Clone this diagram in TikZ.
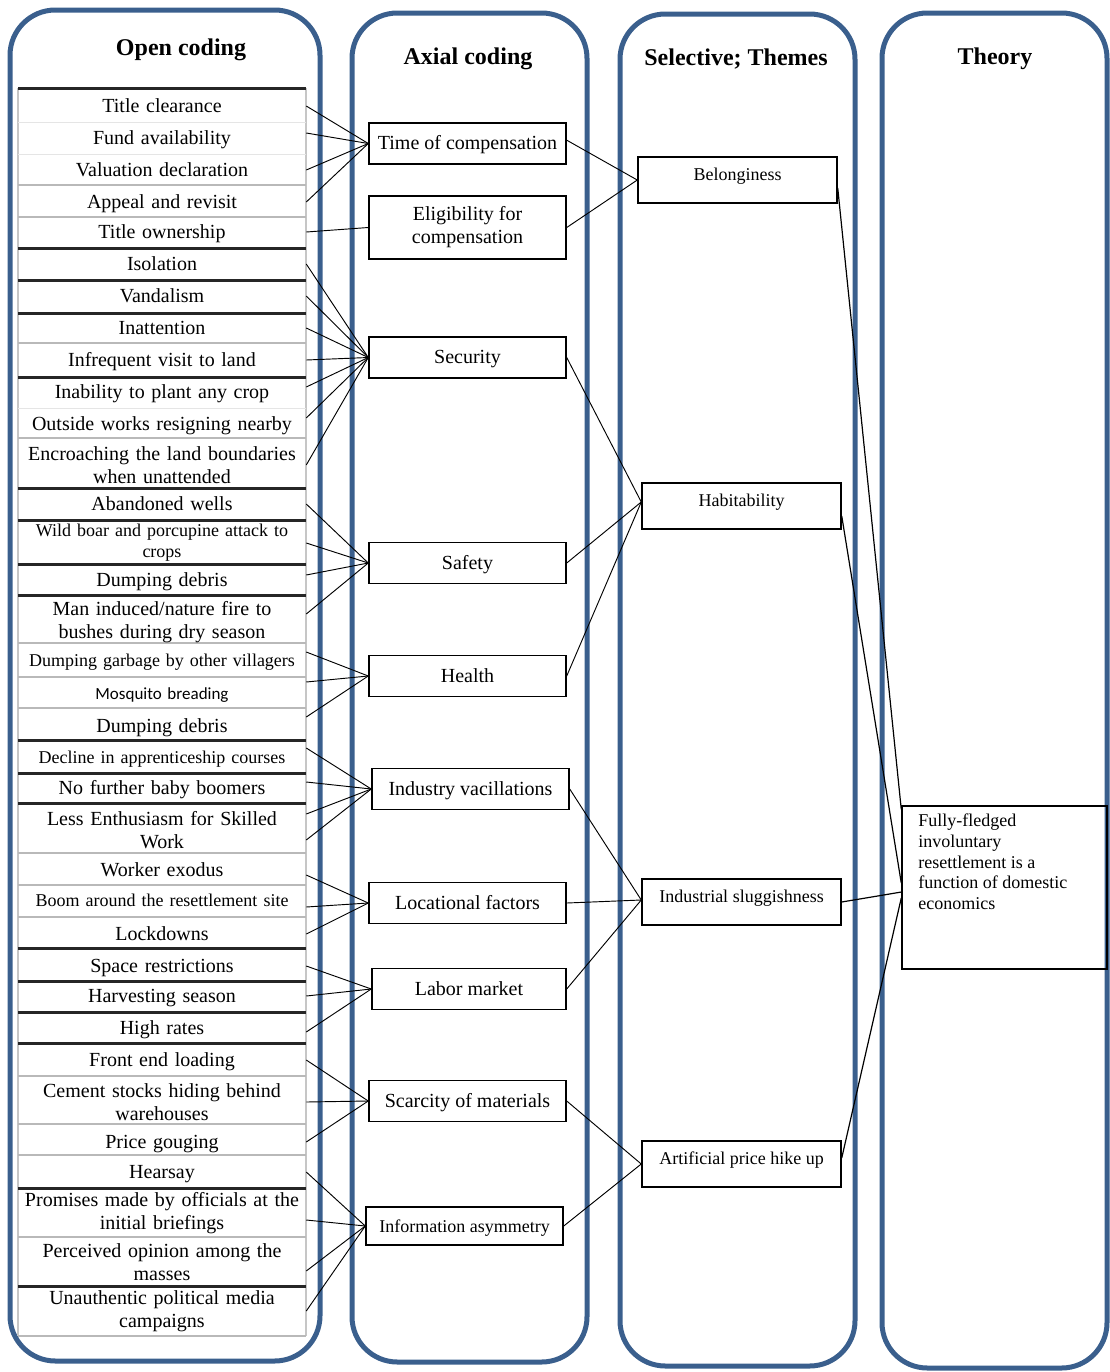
\documentclass[tikz,border=0pt]{standalone}
\usepackage{fontspec}
\setmainfont{Liberation Serif}
\newfontfamily\carlito{Carlito}
\definecolor{colblue}{RGB}{58,95,141}
\begin{document}
\begin{tikzpicture}[x=0.75pt,y=-0.75pt,
 col/.style={draw=colblue,line width=3.75pt,rounded corners=34pt},
 hdr/.style={font=\fontsize{18}{21}\selectfont\bfseries,inner sep=0pt},
 oc/.style={text width=216pt,align=center,inner sep=0pt,font=\fontsize{15}{17.25}\selectfont},
 sl/.style={text height=11.5pt,text depth=2.5pt},
 smf/.style={font=\fontsize{13.5}{15.75}\selectfont},
 sepk/.style={line width=2.25pt,black!85},
 sepg/.style={line width=1.5pt,gray!55},
 sepf/.style={line width=0.75pt,gray!20},
 abox/.style={draw,line width=1.1pt,inner sep=0pt,minimum width=147.75pt,minimum height=30.75pt,align=center,font=\fontsize{15}{17.25}\selectfont},
 sbox/.style={draw,line width=1.1pt,inner sep=0pt,minimum width=149.25pt,minimum height=34.5pt,font=\fontsize{13.5}{15.5}\selectfont,text height=9pt,text depth=8.2pt},
 conn/.style={line width=0.7pt}
]
\useasboundingbox (0,0) rectangle (1110,1372);
% columns
\draw[col] (10,10) rectangle (320,1361);
\draw[col] (352,13) rectangle (587,1362);
\draw[col] (620,14) rectangle (855,1366);
\draw[col] (882,13) rectangle (1107,1368);
% headers
\node[hdr] (h1) at (181,50) {Open coding};
\node[hdr] (h2) at (468,59) {Axial coding};
\node[hdr] (h3) at (736,59) {Selective; Themes};
\node[hdr] (h4) at (995,59) {Theory};
% table
\draw[gray!45,line width=1.1pt] (18,88) -- (18,1336);
\draw[gray!45,line width=1.1pt] (306,88) -- (306,1336);
\foreach \yy in {122,154,408} \draw[sepf] (18,\yy) -- (306,\yy);
\foreach \yy in {185,217,343,438,643,677,708,853,885,917,1076,1124,1155,1237,1336} \draw[sepg] (18,\yy) -- (306,\yy);
\foreach \yy in {88,248,280,313,377,488,520,564,595,740,773,803,948,981,1012,1043,1188,1286} \draw[sepk] (18,\yy) -- (306,\yy);
% open codes
\node[oc,sl] (r1) at (162,106) {Title clearance};
\node[oc,sl] (r2) at (162,138) {Fund availability};
\node[oc,sl] (r3) at (162,170) {Valuation declaration};
\node[oc,sl] (r4) at (162,202) {Appeal and revisit};
\node[oc,sl] (r5) at (162,232) {Title ownership};
\node[oc,sl] (r6) at (162,264) {Isolation};
\node[oc,sl] (r7) at (162,296) {Vandalism};
\node[oc,sl] (r8) at (162,328) {Inattention};
\node[oc,sl] (r9) at (162,360) {Infrequent visit to land};
\node[oc,sl] (r10) at (162,392) {Inability to plant any crop};
\node[oc,sl] (r11) at (162,424) {Outside works resigning nearby};
\node[oc] (r12) at (162,465) {Encroaching the land boundaries\\when unattended};
\node[oc,sl] (r13) at (162,504) {Abandoned wells};
\node[oc,font=\fontsize{13.5}{15.75}\selectfont] (r14) at (162,543) {Wild boar and porcupine attack to\\crops};
\node[oc,sl] (r15) at (162,580) {Dumping debris};
\node[oc] (r16) at (162,622) {Man induced/nature fire to\\bushes during dry season};
\node[oc,sl,smf] (r17) at (162,660) {Dumping garbage by other villagers};
\node[oc,sl,font=\carlito\fontsize{12.75}{15}\selectfont] (r18) at (162,693) {Mosquito breading};
\node[oc,sl] (r19) at (162,726) {Dumping debris};
\node[oc,sl,smf] (r20) at (162,757) {Decline in apprenticeship courses};
\node[oc,sl] (r21) at (162,788) {No further baby boomers};
\node[oc] (r22) at (162,830) {Less Enthusiasm for Skilled\\Work};
\node[oc,sl] (r23) at (162,870) {Worker exodus};
\node[oc,sl,smf] (r24) at (162,900) {Boom around the resettlement site};
\node[oc,sl] (r25) at (162,934) {Lockdowns};
\node[oc,sl] (r26) at (162,966) {Space restrictions};
\node[oc,sl] (r27) at (162,996) {Harvesting season};
\node[oc,sl] (r28) at (162,1028) {High rates};
\node[oc,sl] (r29) at (162,1060) {Front end loading};
\node[oc] (r30) at (162,1102) {Cement stocks hiding behind\\warehouses};
\node[oc,sl] (r31) at (162,1142) {Price gouging};
\node[oc,sl] (r32) at (162,1172) {Hearsay};
\node[oc] (r33) at (162,1213) {Promises made by officials at the\\initial briefings};
\node[oc] (r34) at (162,1262) {Perceived opinion among the\\masses};
\node[oc] (r35) at (162,1311) {Unauthentic political media\\campaigns};
% axial boxes
\node[abox,sl] (toc) at (467.5,143.5) {Time of compensation};
\node[abox,minimum height=47.25pt] (elig) at (467.5,227.5) {Eligibility for\\compensation};
\node[abox,sl] (sec) at (467.5,357.5) {Security};
\node[abox,sl] (saf) at (467.5,563) {Safety};
\node[abox,sl] (hea) at (467.5,676) {Health};
\node[abox,sl] (ind) at (470.5,789) {Industry vacillations};
\node[abox,sl] (loc) at (467.5,903) {Locational factors};
\node[abox,sl,minimum width=145.5pt] (lab) at (469,989) {Labor market};
\node[abox,sl,smf,minimum height=28.5pt] (inf) at (464.5,1226) {Information asymmetry};
\node[abox,sl] (sca) at (467.5,1101) {Scarcity of materials};
% selective boxes
\node[sbox] (bel) at (737.5,180) {Belonginess};
\node[sbox] (hab) at (741.5,506) {Habitability};
\node[sbox] (isl) at (741.5,902) {Industrial sluggishness};
\node[sbox] (aph) at (741.5,1164) {Artificial price hike up};
% theory
\node[draw,line width=1.1pt,minimum width=153.75pt,minimum height=122.25pt,inner sep=0pt] (th) at (1004.5,887.5) {};
\node[anchor=north west,inner sep=0pt,align=left,font=\fontsize{13.5}{15.4}\selectfont] (tht) at (918,814) {Fully-fledged\\involuntary\\resettlement is a\\function of domestic\\economics};
% open -> axial
\draw[conn] (r1.east) -- (toc.west);
\draw[conn] ([yshift=3.75pt]r2.east) -- (toc.west);
\draw[conn] (r3.east) -- (toc.west);
\draw[conn] (r4.east) -- (toc.west);
\draw[conn] (r5.east) -- (elig.west);
\draw[conn] (r6.east) -- (sec.west);
\draw[conn] (r7.east) -- (sec.west);
\draw[conn] (r8.east) -- (sec.west);
\draw[conn] (r9.east) -- (sec.west);
\draw[conn] ([yshift=3.75pt]r10.east) -- (sec.west);
\draw[conn] ([yshift=4.5pt]r11.east) -- (sec.west);
\draw[conn] (r12.east) -- (sec.west);
\draw[conn] (r13.east) -- (saf.west);
\draw[conn] (r14.east) -- (saf.west);
\draw[conn] ([yshift=3.75pt]r15.east) -- (saf.west);
\draw[conn] ([yshift=6pt]r16.east) -- (saf.west);
\draw[conn] ([yshift=6pt]r17.east) -- (hea.west);
\draw[conn] ([yshift=8.25pt]r18.east) -- (hea.west);
\draw[conn] ([yshift=6.75pt]r19.east) -- (hea.west);
\draw[conn] ([yshift=6.75pt]r20.east) -- (ind.west);
\draw[conn] ([yshift=4.5pt]r21.east) -- (ind.west);
\draw[conn] ([yshift=12pt]r22.east) -- (ind.west);
\draw[conn] ([yshift=-7.5pt]r22.east) -- (ind.west);
\draw[conn] ([yshift=-3.75pt]r23.east) -- (loc.west);
\draw[conn] ([yshift=-5.25pt]r24.east) -- (loc.west);
\draw[conn] (r25.east) -- (loc.west);
\draw[conn] (r26.east) -- (lab.west);
\draw[conn] (r27.east) -- (lab.west);
\draw[conn] ([yshift=-3pt]r28.east) -- (lab.west);
\draw[conn] (r29.east) -- (sca.west);
\draw[conn] (r30.east) -- (sca.west);
\draw[conn] (r31.east) -- (sca.west);
\draw[conn] (r32.east) -- (inf.west);
\draw[conn] ([yshift=-5.25pt]r33.east) -- (inf.west);
\draw[conn] ([yshift=-6.75pt]r34.east) -- (inf.west);
\draw[conn] (r35.east) -- (inf.west);
% axial -> selective
\draw[conn] ([yshift=2.5pt]toc.east) -- (bel.west);
\draw[conn] (elig.east) -- (bel.west);
\draw[conn] (sec.east) -- ([yshift=3pt]hab.west);
\draw[conn] (saf.east) -- ([yshift=3pt]hab.west);
\draw[conn] (hea.east) -- ([yshift=3pt]hab.west);
\draw[conn] (ind.east) -- ([yshift=1.5pt]isl.west);
\draw[conn] (loc.east) -- ([yshift=1.5pt]isl.west);
\draw[conn] (lab.east) -- ([yshift=1.5pt]isl.west);
\draw[conn] (sca.east) -- (aph.west);
\draw[conn] (inf.east) -- (aph.west);
% selective -> theory
\draw[conn,line width=0.9pt] ([yshift=-6pt]bel.east) -- ([yshift=-3pt]th.north west);
\draw[conn,line width=0.9pt] ([yshift=-7.5pt]hab.east) -- ([yshift=3.4pt]th.west);
\draw[conn,line width=0.9pt] (isl.east) -- ([yshift=-3.4pt]th.west);
\draw[conn,line width=0.9pt] ([yshift=4.5pt]aph.east) -- ([yshift=-7.9pt]th.west);
\end{tikzpicture}
\end{document}
